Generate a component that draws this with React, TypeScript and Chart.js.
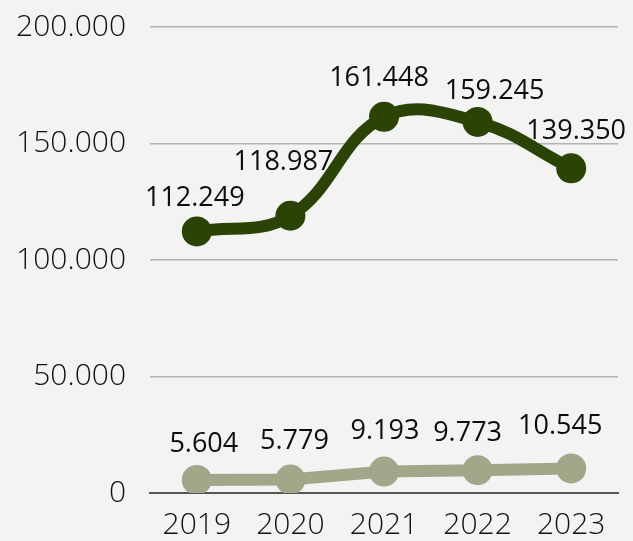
import React, { useEffect, useRef } from "react";
import { Chart, registerables } from "chart.js";

Chart.register(...registerables);

const years = ["2019", "2020", "2021", "2022", "2023"];
const seriesTop = [112249, 118987, 161448, 159245, 139350];
const seriesBottom = [5604, 5779, 9193, 9773, 10545];
const yTicks = [0, 50000, 100000, 150000, 200000];

// label placement nudges (pixels) relative to each point, per series
const labelNudgeTop = [
  [-2, -33],
  [-7, -53],
  [-5, -39],
  [17, -31],
  [5, -37],
];
const labelNudgeBottom = [
  [7, -36],
  [4, -38],
  [1, -40],
  [-10, -37],
  [-11, -42],
];

const fmt = (v: number) =>
  v === 0 ? "0" : Math.round(v).toString().replace(/\B(?=(\d{3})+(?!\d))/g, ".");

const labelPlugin = {
  id: "pointLabels",
  afterDatasetsDraw(chart: any) {
    const ctx = chart.ctx;
    ctx.save();
    ctx.font = "400 27px 'Open Sans'";
    ctx.fillStyle = "#0d0d0d";
    ctx.textAlign = "center";
    ctx.textBaseline = "middle";
    const nudges = [labelNudgeTop, labelNudgeBottom];
    chart.data.datasets.forEach((ds: any, i: number) => {
      const meta = chart.getDatasetMeta(i);
      meta.data.forEach((pt: any, j: number) => {
        const [dx, dy] = nudges[i][j];
        ctx.fillText(fmt(ds.data[j]), pt.x + dx, pt.y + dy);
      });
    });
    ctx.restore();
  },
};

const bgPlugin = {
  id: "bg",
  beforeDraw(chart: any) {
    const ctx = chart.ctx;
    ctx.save();
    ctx.fillStyle = "#f3f3f3";
    ctx.fillRect(0, 0, chart.width, chart.height);
    ctx.restore();
  },
};

export default function App() {
  const ref = useRef<HTMLCanvasElement>(null);
  useEffect(() => {
    document.body.style.margin = "0";
    document.body.style.background = "#f3f3f3";
    const chart = new Chart(ref.current!, {
      type: "line",
      data: {
        labels: years,
        datasets: [
          {
            data: seriesTop,
            borderColor: "#2c4306",
            backgroundColor: "#2c4306",
            borderWidth: 12,
            pointRadius: 15,
            pointHoverRadius: 15,
            pointBorderWidth: 0,
            tension: 0.4,
            borderCapStyle: "round",
          },
          {
            data: seriesBottom,
            borderColor: "#a3a689",
            backgroundColor: "#a3a689",
            borderWidth: 12,
            pointRadius: 15,
            pointHoverRadius: 15,
            pointBorderWidth: 0,
            tension: 0,
          },
        ],
      },
      options: {
        responsive: false,
        animation: false,
        layout: { padding: { top: 0, right: 15, left: 0, bottom: 0 } },
        plugins: { legend: { display: false }, tooltip: { enabled: false } },
        scales: {
          x: {
            offset: true,
            afterFit: (axis: any) => {
              axis.height = 48;
            },
            grid: { display: false, drawTicks: false },
            border: { display: true, color: "#555", width: 2 },
            ticks: {
              color: "#111",
              font: { family: "'Open Sans'", size: 30, weight: "300", lineHeight: 1 },
              padding: 17,
              maxRotation: 0,
            },
          },
          y: {
            min: 0,
            max: 200000,
            afterBuildTicks: (axis: any) => {
              axis.ticks = yTicks.map((v) => ({ value: v }));
            },
            afterFit: (axis: any) => {
              axis.width = 150;
              axis.paddingTop = 27;
              axis.paddingBottom = 0;
            },
            grid: { color: "#b3b3b3", lineWidth: 1.5, drawTicks: false },
            border: { display: false },
            ticks: {
              color: "#111",
              font: { family: "'Open Sans'", size: 30, weight: "300", lineHeight: 1 },
              padding: 24,
              callback: (v: any) => fmt(Number(v)),
            },
          },
        },
      },
      plugins: [bgPlugin, labelPlugin],
    });
    return () => chart.destroy();
  }, []);
  return <canvas ref={ref} width={633} height={541} style={{ display: "block" }} />;
}
